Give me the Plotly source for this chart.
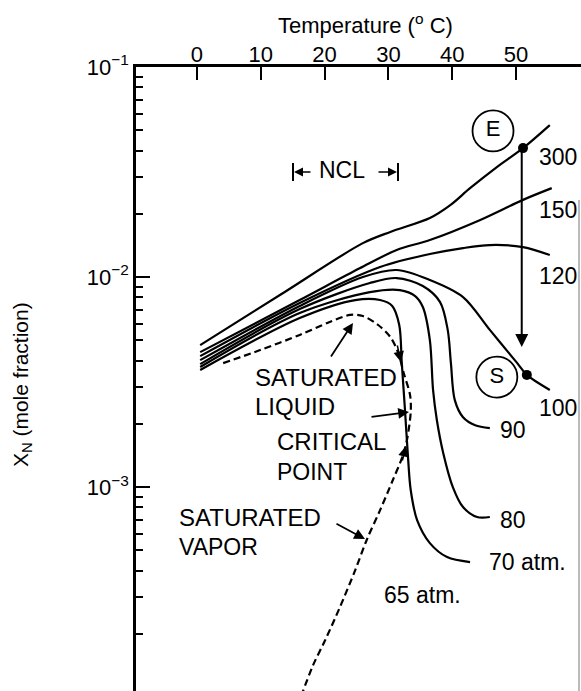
import numpy as np
import plotly.graph_objects as go

FONT = "Liberation Sans, Arial, Helvetica, sans-serif"

# ---- data: temperature (deg C) and X_N (mole fraction) ----
T_300 = [0.5, 13.0, 26.0, 30.3, 36.5, 39.7, 42.8, 47.0, 51.1, 55.3]
X_300 = [0.00474, 0.00821, 0.0145, 0.0164, 0.0191, 0.0220, 0.0265, 0.0334, 0.0411, 0.0529]
T_150 = [0.5, 16.1, 25.5, 31.3, 36.5, 44.4, 51.1, 55.6]
X_150 = [0.00439, 0.00777, 0.0110, 0.01345, 0.0150, 0.0187, 0.0233, 0.0265]
T_120 = [0.5, 16.1, 28.7, 36.5, 41.7, 45.9, 51.1, 55.3]
X_120 = [0.00420, 0.00752, 0.01116, 0.01287, 0.01374, 0.0142, 0.01389, 0.01273]
T_100 = [0.5, 16.1, 26.0, 31.3, 36.5, 41.7, 45.9, 50.2, 51.7, 55.3]
X_100 = [0.00402, 0.00728, 0.0100, 0.0108, 0.00968, 0.00803, 0.00560, 0.00389, 0.00342, 0.00290]
T_90 = [0.5, 16.1, 27.1, 31.3, 35.4, 38.1, 39.3, 39.8, 40.4, 41.7, 43.6, 45.9]
X_90 = [0.00385, 0.00704, 0.00936, 0.00989, 0.00906, 0.00760, 0.00560, 0.00389, 0.00260, 0.00215, 0.00197, 0.00191]
T_80 = [0.5, 16.1, 27.1, 31.8, 34.2, 35.4, 36.5, 37.0, 37.6, 38.6, 40.1, 41.7, 43.9, 45.9]
X_80 = [0.00373, 0.00674, 0.00848, 0.00867, 0.00812, 0.00720, 0.00501, 0.00290, 0.00208, 0.00145, 0.00100, 0.000803, 0.000720, 0.000720]
T_70 = [0.5, 16.1, 24.8, 28.7, 30.6, 31.7, 32.1, 32.6, 33.1, 33.5, 34.5, 36.5, 39.2, 42.8]
X_70 = [0.00361, 0.00638, 0.00777, 0.00777, 0.00728, 0.00591, 0.00389, 0.00233, 0.00135, 0.000968, 0.000696, 0.000541, 0.000464, 0.000439]

# saturation curves (dashed)
T_liq = [4.1, 9.9, 16.1, 20.8, 24.0, 26.0, 28.4, 30.3, 31.5, 32.4, 33.4, 33.5]
X_liq = [0.00389, 0.00449, 0.00530, 0.00611, 0.00660, 0.00652, 0.00591, 0.00518, 0.00439, 0.00349, 0.00274, 0.00228]
T_vap = [33.5, 32.9, 32.3, 30.7, 28.7, 26.6, 24.8, 22.4, 20.1, 18.2, 16.1]
X_vap = [0.00228, 0.00167, 0.00142, 0.00108, 0.000777, 0.000560, 0.000402, 0.000268, 0.000187, 0.000142, 0.0000967]

# points E and S
E_dot = (51.1, 0.0411)
S_dot = (51.7, 0.00342)
E_circle = (46.4, 0.0496)
S_circle = (47.0, 0.00334)
arrow_T = 50.9
arrow_X_top = 0.0411
arrow_X_tip = 0.00464

x_ticks = [0, 10, 20, 30, 40, 50]
y_ticks = [1e-1, 1e-2, 1e-3]
y_ticktext = ["10<sup>\u22121</sup>", "10<sup>\u22122</sup>", "10<sup>\u22123</sup>"]
y_minor = [k * 10.0 ** e for e in (-2, -3, -4) for k in range(2, 10)]

isobars = [(T_300, X_300), (T_150, X_150), (T_120, X_120), (T_100, X_100),
           (T_90, X_90), (T_80, X_80), (T_70, X_70)]

# ---- figure ----
L, TOP, PW, PH = 136, 67, 445, 624
FS = 23


def P(x, y):
    """pixel position -> paper coordinates (for text placement)"""
    return (x - L) / PW, 1 - (y - TOP) / PH


fig = go.Figure()
for T, X in isobars:
    fig.add_trace(go.Scatter(x=T, y=X, mode="lines",
                             line=dict(color="black", width=2.2, shape="spline", smoothing=0.9),
                             hoverinfo="skip"))
fig.add_trace(go.Scatter(x=T_liq + T_vap[1:], y=X_liq + X_vap[1:], mode="lines",
                         line=dict(color="black", width=2.2, dash="7px,4px", shape="spline", smoothing=0.9),
                         hoverinfo="skip"))
# circles E and S
fig.add_trace(go.Scatter(x=[E_circle[0], S_circle[0]], y=[E_circle[1], S_circle[1]],
                         mode="markers+text", text=["E", "S"], textposition="middle center",
                         textfont=dict(size=22, family=FONT, color="black"),
                         marker=dict(symbol="circle-open", size=41, color="black", line=dict(width=1.8)),
                         hoverinfo="skip"))
# dots
fig.add_trace(go.Scatter(x=[E_dot[0], S_dot[0]], y=[E_dot[1], S_dot[1]], mode="markers",
                         marker=dict(size=10, color="black"), hoverinfo="skip"))

ann = []
# E -> S arrow
ann.append(dict(x=arrow_T, y=np.log10(arrow_X_tip), xref="x", yref="y",
                ax=arrow_T, ay=np.log10(arrow_X_top), axref="x", ayref="y",
                showarrow=True, arrowhead=2, arrowsize=1.3, arrowwidth=2, arrowcolor="black",
                text="", standoff=0))


def label(text, x, y, xanchor="left", size=FS):
    px, py = P(x, y)
    ann.append(dict(x=px, y=py, xref="paper", yref="paper", text=text, showarrow=False,
                    xanchor=xanchor, yanchor="middle", font=dict(size=size, family=FONT, color="black")))


def arrow(tail, tip, width=1.8, size=1.2):
    px, py = P(*tip)
    ann.append(dict(x=px, y=py, xref="paper", yref="paper", text="", showarrow=True,
                    ax=tail[0] - tip[0], ay=tail[1] - tip[1], arrowhead=2, arrowsize=size,
                    arrowwidth=width, arrowcolor="black", standoff=0))


label("300", 537, 157)
label("150", 537, 210)
label("120", 537, 276)
label("100", 537, 408)
label("90", 498, 430)
label("80", 498, 520)
label("70 atm.", 487, 562)
label("65 atm.", 382, 595)
label("SATURATED", 253, 377, size=24)
label("LIQUID", 253, 407, size=24)
label("CRITICAL", 275, 441, size=24)
label("POINT", 275, 472, size=23)
label("SATURATED", 177, 517, size=24)
label("VAPOR", 177, 547, size=23)
label("NCL", 342, 170, xanchor="center")
label("Temperature (<sup>o</sup> C)", 365, 24, xanchor="center", size=22)

px, py = P(22, 385)
ann.append(dict(x=px, y=py, xref="paper", yref="paper", text="X<sub>N</sub> (mole fraction)",
                showarrow=False, textangle=-90, xanchor="center", yanchor="middle",
                font=dict(size=21, family=FONT, color="black")))

arrow((330, 358), (353, 323))
arrow((370, 417), (409, 412))
arrow((335, 523), (365, 539))
arrow((402, 462), (406, 446), width=1.5, size=1.4)
arrow((397, 344), (401, 362), width=1.5, size=1.4)
arrow((312, 172), (294, 172), width=1.5, size=1.2)
arrow((377, 172), (397, 172), width=1.5, size=1.2)

shapes = []
for bx in (293, 398):
    x0, y0 = P(bx, 163)
    _, y1 = P(bx, 181)
    shapes.append(dict(type="line", xref="paper", yref="paper", x0=x0, x1=x0, y0=y0, y1=y1,
                       line=dict(color="black", width=2)))
rx, ry0 = P(579, 200)
_, ry1 = P(579, 691)
shapes.append(dict(type="line", xref="paper", yref="paper", x0=rx, x1=rx, y0=ry0, y1=ry1,
                   line=dict(color="#777777", width=1)))

fig.update_layout(
    width=581, height=691,
    margin=dict(l=L, r=0, t=TOP, b=0, pad=0),
    paper_bgcolor="white", plot_bgcolor="white",
    showlegend=False,
    font=dict(family=FONT, size=FS, color="black"),
    annotations=ann, shapes=shapes,
    xaxis=dict(range=[-9.56, 60.19], side="top", showline=True, linecolor="black", linewidth=2.5,
               ticks="inside", ticklen=13, tickwidth=1.5, tickcolor="black",
               tickmode="array", tickvals=x_ticks, showgrid=False, zeroline=False,
               ticklabelstandoff=-7,
               tickfont=dict(size=22, family=FONT)),
    yaxis=dict(type="log", range=[-3.971, -1], showline=True, linecolor="black", linewidth=2.5,
               ticks="inside", ticklen=14, tickwidth=1.5, tickcolor="black",
               tickmode="array", tickvals=y_ticks, ticktext=y_ticktext,
               minor=dict(ticks="inside", ticklen=7, tickwidth=1.5, tickcolor="black",
                          tickmode="array", tickvals=y_minor, showgrid=False),
               showgrid=False, zeroline=False, tickfont=dict(size=22, family=FONT)),
)

fig.write_html("out.html")
